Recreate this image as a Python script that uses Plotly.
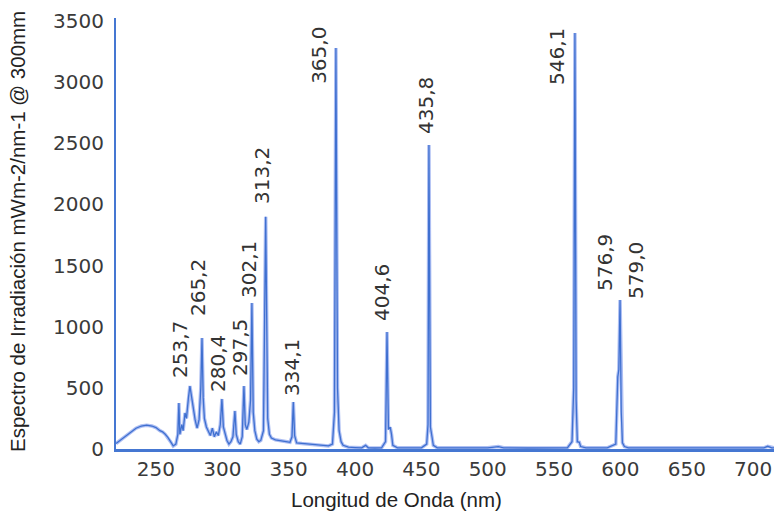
import plotly.graph_objects as go

# Spectrum as drawn (x in axis units, y in mW m-2 nm-1)
wavelength = [219.9, 223, 227, 231, 235, 239, 243, 247, 250, 253, 255, 257, 259, 261, 263,
              265, 266.5, 267.3, 268, 269.5, 270.5, 271.9, 273, 274.5, 275.6, 276.8, 278,
              279.5, 281, 282.5, 283.8, 284.7, 285.6, 286.5, 288, 289.5, 291, 292.5, 294,
              295.5, 297, 298.5, 299.7, 300.8, 302, 303.5, 305, 306.5, 308, 309.5, 310.5,
              312, 313.5, 315, 316.3, 317.3, 318.5, 320, 321.3, 322.3, 323.3, 324.5, 326,
              327.5, 329, 331, 332.7, 334.2, 335.5, 337, 340, 344, 348, 351, 352.5, 353.5,
              354.5, 356, 360, 365, 370, 375, 380, 383, 384.5, 385.6, 386.8, 388, 389.5,
              391, 395, 400, 405, 408, 410, 415, 420, 423, 424.1, 425.2, 426.5, 427.5,
              428.5, 432, 440, 450, 454, 455, 455.7, 456.8, 458, 459, 462, 480, 500, 508,
              512, 530, 560, 563.5, 564.8, 565.7, 566.6, 567.5, 569, 570, 574, 590, 596.5,
              598, 598.8, 599.7, 600.6, 601.5, 603, 606, 620, 650, 690, 708, 711, 714, 715.7]
irradiance = [45, 70, 105, 140, 170, 188, 195, 188, 175, 150, 140, 120, 95, 60, 25,
              40, 120, 376, 120, 200, 150, 294, 250, 420, 515, 430, 330,
              240, 170, 240, 500, 908, 420, 250, 180, 140, 110, 170, 100,
              140, 110, 200, 409, 180, 120, 70, 40, 60, 100, 311, 120,
              60, 40, 100, 515, 200, 160, 220, 400, 1194, 300, 150, 80,
              60, 70, 150, 1899, 250, 120, 90, 75, 70, 60, 55, 100, 384,
              110, 50, 45, 40, 35, 30, 25, 40, 300, 3279, 500, 150, 60,
              30, 15, 12, 10, 30, 10, 8, 10, 60, 957, 160, 178, 120,
              30, 10, 8, 10, 40, 200, 2486, 180, 100, 30, 10, 8, 10, 20,
              10, 8, 10, 60, 500, 3401, 400, 60, 55, 20, 10, 10, 40,
              590, 650, 1218, 300, 50, 20, 10, 10, 8, 10, 10, 22, 10, 10]

# Peak labels
label_text = ["253,7", "265,2", "280,4", "297,5", "302,1", "313,2", "334,1",
              "365,0", "404,6", "435,8", "546,1", "576,9", "579,0"]
label_x = [268.1, 281.7, 296.7, 313.3, 320.1, 329.9, 352.5,
           372.8, 420.3, 453.5, 552.2, 588.4, 611.7]
label_y = [818, 1316, 703, 834, 1472, 2240, 670,
           3222, 1284, 2805, 3205, 1521, 1464]

x_ticks = [250, 300, 350, 400, 450, 500, 550, 600, 650, 700]
y_ticks = [0, 500, 1000, 1500, 2000, 2500, 3000, 3500]

fig = go.Figure()
fig.add_trace(go.Scatter(x=wavelength, y=irradiance, mode="lines",
                         line=dict(color="#aebff3", width=3.5), hoverinfo="skip",
                         showlegend=False))
fig.add_trace(go.Scatter(x=wavelength, y=irradiance, mode="lines",
                         line=dict(color="#3f70d0", width=1.3), showlegend=False))

for t, lx, ly in zip(label_text, label_x, label_y):
    fig.add_annotation(x=lx, y=ly, text=t, textangle=-90, showarrow=False,
                       xanchor="center", yanchor="middle",
                       font=dict(family="DejaVu Sans", size=20, color="#333333"))

fig.add_annotation(xref="paper", yref="paper", x=0, xshift=-98, y=0.5035,
                   text="Espectro de Irradiación mWm-2/nm-1 @ 300mm", textangle=-90,
                   showarrow=False, xanchor="center", yanchor="middle",
                   font=dict(family="Liberation Sans", size=20.5, color="#222222"))
fig.add_annotation(xref="paper", yref="paper", x=0.427, y=-0.118,
                   text="Longitud de Onda (nm)", showarrow=False,
                   xanchor="center", yanchor="middle",
                   font=dict(family="Liberation Sans", size=20.5, color="#222222"))

fig.update_layout(
    width=774, height=515,
    margin=dict(l=116, r=0, t=18, b=66, autoexpand=False),
    paper_bgcolor="white", plot_bgcolor="white",
    xaxis=dict(range=[219.9, 715.7], tickvals=x_ticks, showgrid=False, zeroline=False,
               showline=True, linecolor="#4577d2", linewidth=3, ticks="",
               automargin=False,
               tickfont=dict(family="DejaVu Sans", size=20, color="#3a3a3a")),
    yaxis=dict(range=[0, 3524], tickvals=y_ticks, showgrid=False, zeroline=False,
               showline=True, linecolor="#4577d2", linewidth=2, ticks="",
               automargin=False, ticklabelstandoff=6,
               tickfont=dict(family="DejaVu Sans", size=20, color="#3a3a3a")),
)

fig.write_html("out.html", config={"displayModeBar": False},
               post_script="document.body.style.margin='0';document.body.style.overflow='hidden';")
